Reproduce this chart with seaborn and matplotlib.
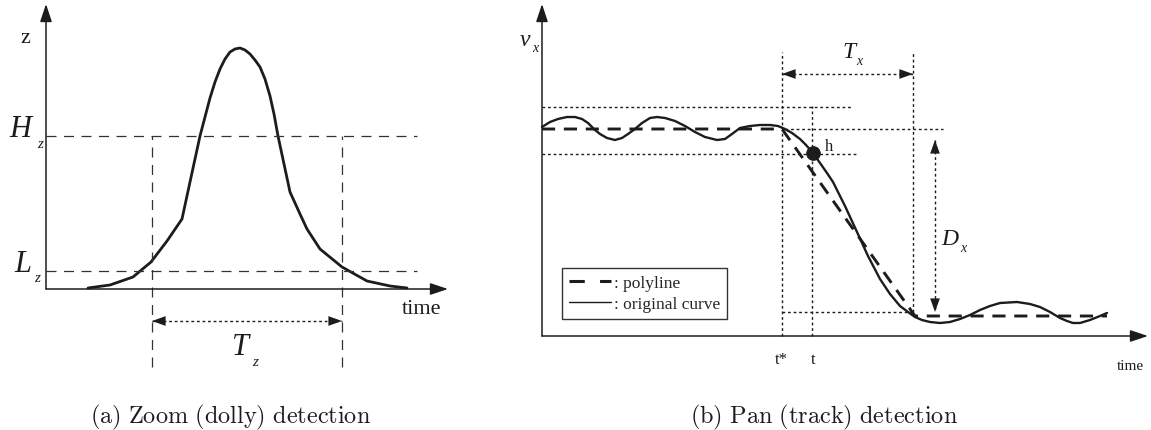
import matplotlib
matplotlib.use("Agg")
import matplotlib.pyplot as plt
import seaborn as sns
from matplotlib.lines import Line2D

# ---- data ----
# (a) zoom: camera height z over time
zoom_t = [42, 64, 87, 105, 121, 136, 144, 154, 159, 164, 169, 174, 179, 184, 189, 194, 199,
          204, 209, 214, 219, 224, 228, 232, 238, 244, 254, 261, 274, 296, 321, 344, 361]
zoom_z = [1, 4, 12, 27, 48, 70, 107, 153, 172, 191, 207, 220, 230, 237, 240, 241, 239,
          235, 229, 222, 210, 193, 175, 153, 125, 97, 75, 60, 40, 22, 8, 3, 1]
zoom_high = 153      # H_z
zoom_low = 18        # L_z
zoom_t_start = 106
zoom_t_end = 296

# (b) pan: horizontal velocity v_x over time
pan_t = [0, 8, 16, 25, 33, 40, 46, 53, 58, 65, 73, 80, 86, 93, 100, 108, 115, 123, 133, 143,
         153, 163, 175, 183, 190, 198, 208, 218, 228, 236, 243, 250, 258, 264, 271, 278, 285,
         291, 303, 315, 326, 338, 348, 358, 366, 373, 380, 388, 398, 408, 418, 428, 438, 448,
         458, 475, 488, 498, 508, 518, 525, 531, 538, 548, 558, 565]
pan_v = [209, 214, 217, 219, 219, 217, 213, 206, 202, 198, 196, 198, 202, 207, 213, 218, 219,
         218, 215, 210, 204, 199, 196, 197, 202, 208, 210, 211, 211, 210, 207, 203, 197, 191,
         183, 173, 163, 154, 130, 104, 80, 57, 42, 30, 24, 19, 16, 14, 13, 14, 17, 21, 26, 30,
         33, 34, 32, 29, 24, 18, 15, 13, 13, 16, 20, 23]
poly_t = [0, 240, 373, 565]
poly_v = [207, 207, 20, 20]
pan_band_hi = 229
pan_band_lo = 182
t_star = 240
t_now = 270
h_point = (271, 183)
pan_t_end = 371
pan_end_level = 24

INK = "#1c1c1c"
sns.set_theme(style="white")
plt.rcParams["font.family"] = ["Liberation Serif", "DejaVu Serif"]

fig = plt.figure(figsize=(11.51, 4.31), dpi=100)
ax1 = fig.add_axes([0, 0, 500 / 1151, 1])
ax2 = fig.add_axes([500 / 1151, 0, 651 / 1151, 1])

AXIS_ARROW = dict(arrowstyle="-|>,head_length=0.54,head_width=0.18", mutation_scale=20,
                  lw=1.1, color=INK, shrinkA=0, shrinkB=0)
HEAD = dict(arrowstyle="-|>,head_length=0.7,head_width=0.25", mutation_scale=14,
            lw=0, color=INK, shrinkA=0, shrinkB=0)
DOT = (0, (2, 2))
DASH = (0, (8, 6))


def axes_arrows(ax, xmax, ymax):
    ax.annotate("", xy=(xmax, 0), xytext=(0, 0), arrowprops=AXIS_ARROW)
    ax.annotate("", xy=(0, ymax), xytext=(0, 0), arrowprops=AXIS_ARROW)


def dim_arrow(ax, p0, p1, ls=DOT):
    ax.plot([p0[0], p1[0]], [p0[1], p1[1]], ls=ls, lw=1, color=INK)
    d = (p1[0] - p0[0], p1[1] - p0[1])
    n = (d[0] ** 2 + d[1] ** 2) ** 0.5
    u = (d[0] / n * 15, d[1] / n * 15)
    ax.annotate("", xy=p0, xytext=(p0[0] + u[0], p0[1] + u[1]), arrowprops=HEAD)
    ax.annotate("", xy=p1, xytext=(p1[0] - u[0], p1[1] - u[1]), arrowprops=HEAD)


def sub_label(ax, x, y, main, sub, size, dx, dy, sub_size):
    ax.text(x, y, main, fontsize=size, style="italic", ha="center", va="baseline", color=INK)
    ax.annotate(sub, xy=(x, y), xytext=(dx * 0.72, dy * 0.72), textcoords="offset points",
                fontsize=sub_size, style="italic", ha="left", va="baseline", color=INK)


# ---- (a) zoom detection ----
sns.lineplot(x=zoom_t, y=zoom_z, ax=ax1, color=INK, lw=2.0, sort=False)
ax1.hlines([zoom_high, zoom_low], 0, 371, colors="#333333", lw=0.9, linestyles=[DASH])
ax1.vlines([zoom_t_start, zoom_t_end], -78, zoom_high, colors="#333333", lw=0.9,
           linestyles=[DASH])
axes_arrows(ax1, 402, 285)
dim_arrow(ax1, (zoom_t_start, -32), (zoom_t_end, -32))

ax1.text(-21, 252, "z", fontsize=16, ha="center", va="center", color=INK)
sub_label(ax1, -26, zoom_high, "H", "z", 22, 17, -11, 11)
sub_label(ax1, -23, zoom_low, "L", "z", 22, 11, -10, 11)
sub_label(ax1, 195, -65, "T", "z", 22, 11, -11, 11)
ax1.text(376, -20, "time", fontsize=16, ha="center", va="center", color=INK)

# ---- (b) pan detection ----
sns.lineplot(x=pan_t, y=pan_v, ax=ax2, color=INK, lw=1.7, sort=False)
sns.lineplot(x=poly_t, y=poly_v, ax=ax2, color=INK, lw=2.1, sort=False,
             linestyle=(0, (4.5, 3)))
sns.scatterplot(x=[h_point[0]], y=[h_point[1]], ax=ax2, color=INK, s=95, edgecolor=INK,
                zorder=5)

ax2.hlines(pan_band_hi, 0, 310, colors=INK, lw=1, linestyles=[DOT])
ax2.hlines(pan_band_lo, 0, 315, colors=INK, lw=1, linestyles=[DOT])
ax2.hlines(poly_v[1], 243, 401, colors=INK, lw=1, linestyles=[DOT])
ax2.hlines(pan_end_level, t_star, pan_t_end, colors=INK, lw=1, linestyles=[DOT])
ax2.vlines(t_star, 0, 284, colors=INK, lw=1, linestyles=[DOT])
ax2.vlines(t_now, 0, 230, colors=INK, lw=1, linestyles=[DOT])
ax2.vlines(pan_t_end, pan_end_level, 284, colors=INK, lw=1, linestyles=[DOT])
axes_arrows(ax2, 606, 332)
dim_arrow(ax2, (t_star, 262), (pan_t_end, 262))
dim_arrow(ax2, (393, 196), (393, pan_end_level))

sub_label(ax2, -17, 291, "v", "x", 17, 7, -6, 10)
sub_label(ax2, 307, 279, "T", "x", 17, 7, -7, 10)
sub_label(ax2, 408, 92, "D", "x", 17, 10, -7, 10)
ax2.text(287, 186, "h", fontsize=12, ha="center", va="baseline", color=INK)
ax2.text(239, -27, "t*", fontsize=12, ha="center", va="baseline", color=INK)
ax2.text(271, -27, "t", fontsize=12, ha="center", va="baseline", color=INK)
ax2.text(588, -30, "time", fontsize=11, ha="center", va="center", color=INK)

handles = [Line2D([], [], color=INK, lw=2.2, ls=(0, (5, 5))),
           Line2D([], [], color=INK, lw=1.0)]
leg = ax2.legend(handles, [": polyline", ": original curve"], loc="upper left",
                 bbox_to_anchor=(20, 68), bbox_transform=ax2.transData, borderaxespad=0,
                 fontsize=12.5, handlelength=2.4, handletextpad=0.2, borderpad=0.4,
                 labelspacing=0.3, frameon=True, fancybox=False, framealpha=1)
leg.get_frame().set_edgecolor("#333333")
leg.get_frame().set_linewidth(1.0)

for ax, xl, yl in ((ax1, (-46, 454), (-141, 290)), (ax2, (-42, 609), (-94, 337))):
    ax.set_xlim(*xl)
    ax.set_ylim(*yl)
    ax.axis("off")

fig.text(231 / 1151, 1 - 423 / 431, r"$\mathrm{(a)\ Zoom\ (dolly)\ detection}$",
         fontsize=17.5, ha="center", va="baseline", math_fontfamily="cm", color=INK)
fig.text(824 / 1151, 1 - 423 / 431, r"$\mathrm{(b)\ Pan\ (track)\ detection}$",
         fontsize=17.5, ha="center", va="baseline", math_fontfamily="cm", color=INK)

fig.savefig("out.png", dpi=100)
